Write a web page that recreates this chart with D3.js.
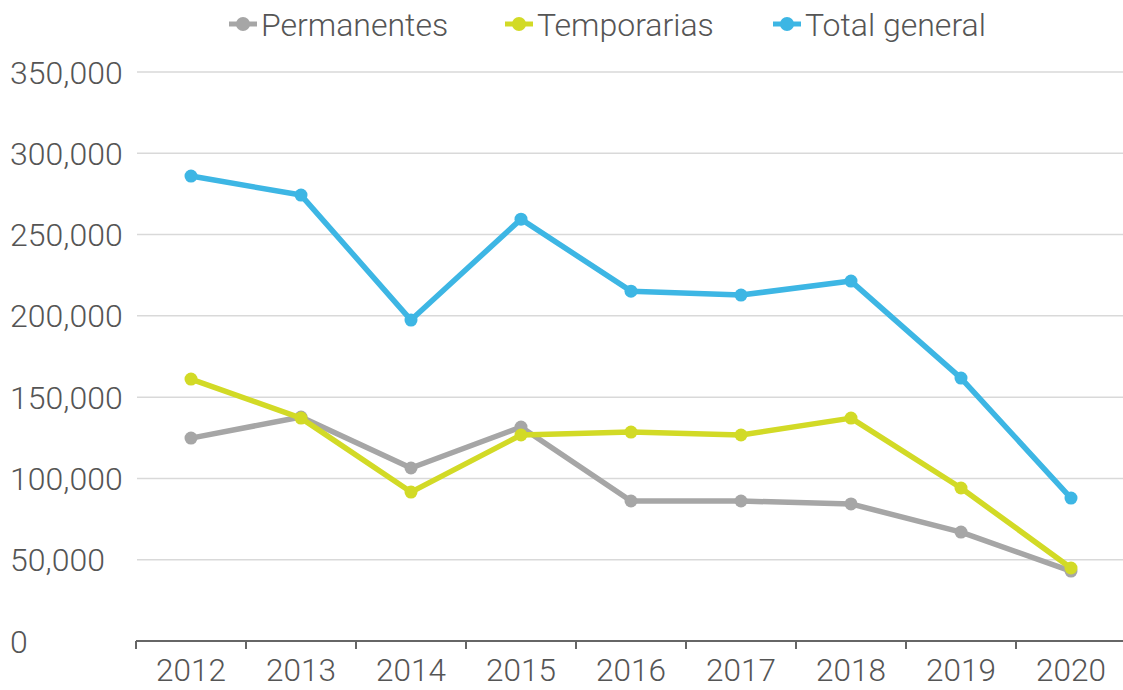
<!DOCTYPE html>
<html>
<head>
<meta charset="utf-8">
<script src="https://cdn.jsdelivr.net/npm/d3@7"></script>
<style>
	body {
		margin: 0;
		background: #fff;
		font-family: Roboto, "Noto Sans", sans-serif;
	}
	.lbl {
		font-family: Roboto, sans-serif;
		font-weight: 300;
		fill: #555;
	}
</style>
</head>
<body>
<div id="chart"></div>
<script>
// data
var years = ["2012", "2013", "2014", "2015", "2016", "2017", "2018", "2019", "2020"];
var permanentes = [124800, 137800, 106400, 131600, 86100, 86100, 84300, 67000, 43000];
var temporarias = [161100, 137100, 91600, 126700, 128500, 126700, 137100, 94100, 44900];
var totalGeneral = [286000, 274300, 197400, 259500, 215200, 212800, 221400, 161700, 87900];
var yTicks = [0, 50000, 100000, 150000, 200000, 250000, 300000, 350000];

var series = [
	{ name: "Permanentes", values: permanentes, color: "#a6a6a6" },
	{ name: "Temporarias", values: temporarias, color: "#d2da26" },
	{ name: "Total general", values: totalGeneral, color: "#3db6e4" }
];

var W = 1123, H = 690;
var svg = d3.select("#chart").append("svg")
	.attr("width", W)
	.attr("height", H);

var x = d3.scaleBand().domain(years).range([136, 1126]);
var y = d3.scaleLinear().domain([0, 350000]).range([641, 72]);

// gridlines
svg.append("g")
	.selectAll("line")
	.data(yTicks.filter(function (d) { return d > 0; }))
	.enter().append("line")
	.attr("x1", 137)
	.attr("x2", W)
	.attr("y1", function (d) { return y(d); })
	.attr("y2", function (d) { return y(d); })
	.attr("stroke", "#d9d9d9")
	.attr("stroke-width", 1.5);

// y labels (left aligned)
svg.append("g")
	.selectAll("text")
	.data(yTicks)
	.enter().append("text")
	.attr("class", "lbl")
	.attr("x", 10)
	.attr("y", function (d) { return y(d); })
	.attr("dy", "0.36em")
	.attr("font-size", 32)
	.text(function (d) { return d3.format(",")(d); });

// x axis with ticks at band edges
var xAxis = svg.append("g");
xAxis.append("line")
	.attr("x1", 136).attr("x2", W)
	.attr("y1", 641).attr("y2", 641)
	.attr("stroke", "#666").attr("stroke-width", 2);
xAxis.selectAll(".tk")
	.data(years)
	.enter().append("line")
	.attr("class", "tk")
	.attr("x1", function (d) { return x(d); })
	.attr("x2", function (d) { return x(d); })
	.attr("y1", 641).attr("y2", 649)
	.attr("stroke", "#666").attr("stroke-width", 2);
xAxis.selectAll("text")
	.data(years)
	.enter().append("text")
	.attr("class", "lbl")
	.attr("x", function (d) { return x(d) + x.bandwidth() / 2; })
	.attr("y", 681)
	.attr("text-anchor", "middle")
	.attr("font-size", 31.5)
	.text(function (d) { return d; });

// lines and markers
var line = d3.line()
	.x(function (d, i) { return x(years[i]) + x.bandwidth() / 2; })
	.y(function (d) { return y(d); });

series.forEach(function (s) {
	var g = svg.append("g");
	g.append("path")
		.attr("d", line(s.values))
		.attr("fill", "none")
		.attr("stroke", s.color)
		.attr("stroke-width", 5.5)
		.attr("stroke-linejoin", "round");
	g.selectAll("circle")
		.data(s.values)
		.enter().append("circle")
		.attr("cx", function (d, i) { return x(years[i]) + x.bandwidth() / 2; })
		.attr("cy", function (d) { return y(d); })
		.attr("r", 6.5)
		.attr("fill", s.color);
});

// legend
var legendX = [243, 519, 787];
var legend = svg.append("g");
series.forEach(function (s, i) {
	var lg = legend.append("g").attr("transform", "translate(" + legendX[i] + ",24)");
	lg.append("line")
		.attr("x1", -14).attr("x2", 14)
		.attr("stroke", s.color).attr("stroke-width", 5);
	lg.append("circle").attr("r", 7).attr("fill", s.color);
	lg.append("text")
		.attr("class", "lbl")
		.attr("x", 18)
		.attr("dy", "0.36em")
		.attr("font-size", 32)
		.text(s.name);
});
</script>
</body>
</html>
